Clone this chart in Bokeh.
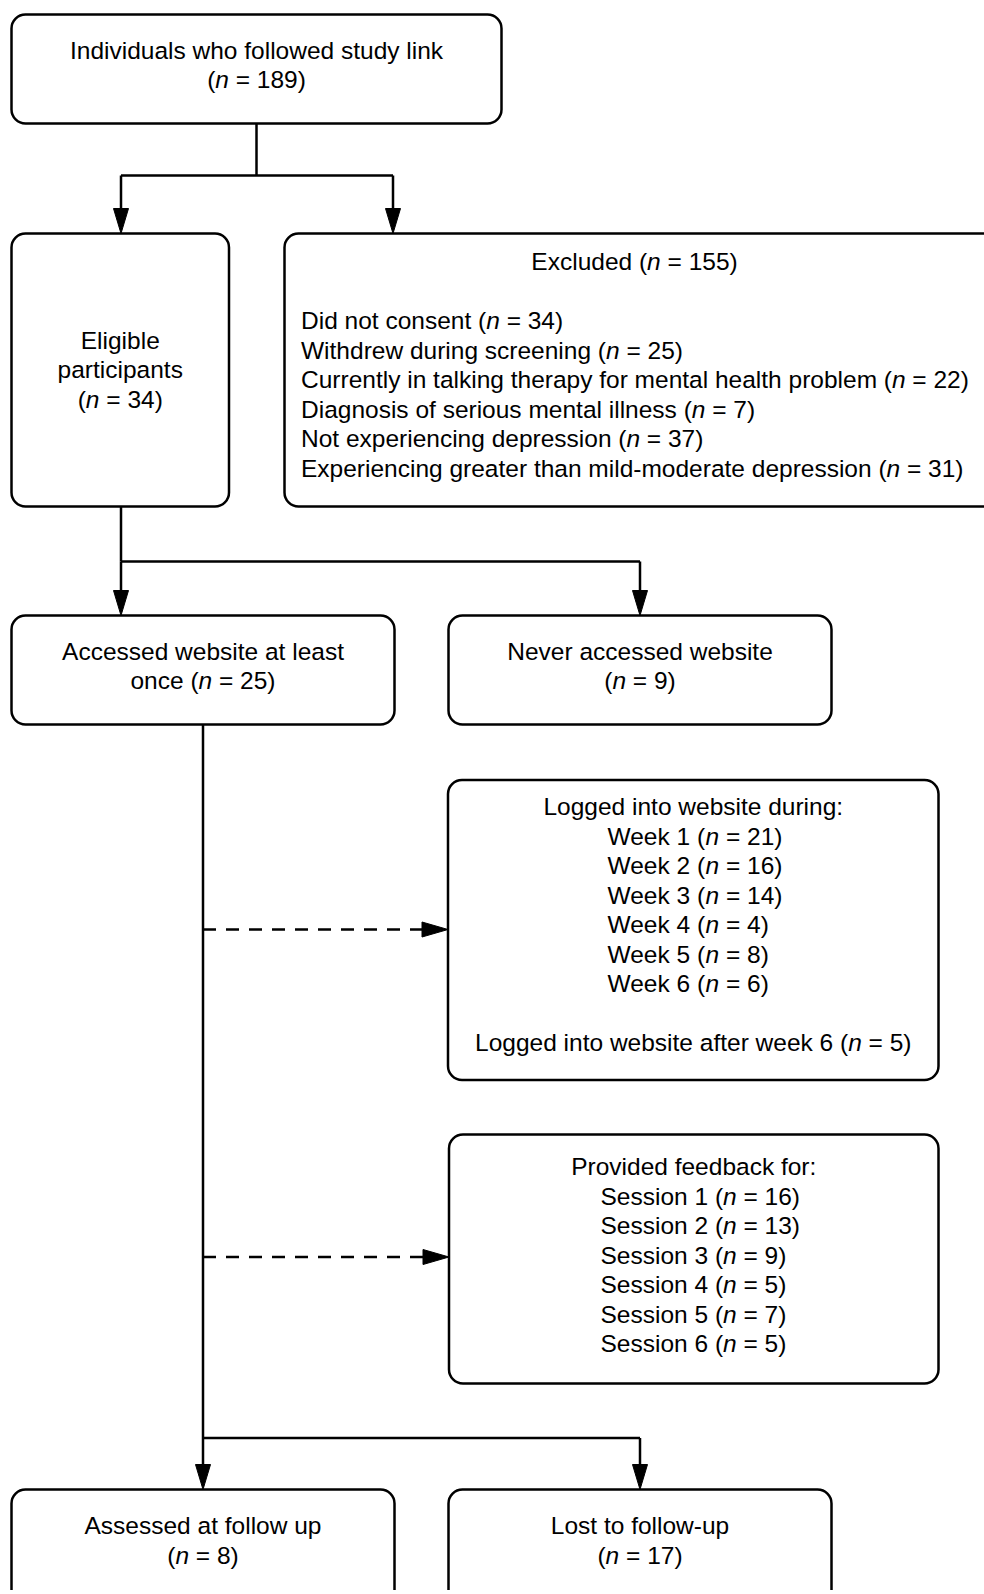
from bokeh.plotting import figure
from bokeh.models import Range1d, ColumnDataSource
from bokeh.embed import file_html
from bokeh.resources import INLINE
from bokeh.core.properties import value

# ---------------- data ----------------
followed_label = "Individuals who followed study link"
followed_n = 189
eligible_label = ["Eligible", "participants"]
eligible_n = 34
excluded_label = "Excluded"
excluded_n = 155
excluded_reasons = [
    "Did not consent",
    "Withdrew during screening",
    "Currently in talking therapy for mental health problem",
    "Diagnosis of serious mental illness",
    "Not experiencing depression",
    "Experiencing greater than mild-moderate depression",
]
excluded_counts = [34, 25, 22, 7, 37, 31]
accessed_label = ["Accessed website at least", "once"]
accessed_n = 25
never_label = "Never accessed website"
never_n = 9
logged_title = "Logged into website during:"
weeks = ["Week 1", "Week 2", "Week 3", "Week 4", "Week 5", "Week 6"]
week_counts = [21, 16, 14, 4, 8, 6]
after_week6_label = "Logged into website after week 6"
after_week6_n = 5
feedback_title = "Provided feedback for:"
sessions = ["Session 1", "Session 2", "Session 3", "Session 4", "Session 5", "Session 6"]
session_counts = [16, 13, 9, 5, 7, 5]
followup_label = "Assessed at follow up"
followup_n = 8
lost_label = "Lost to follow-up"
lost_n = 17

# ---------------- layout helpers ----------------
FONT = "Liberation Sans"
FS = 24.5
LH = 29.5
W = {' ': 278, '(': 333, ')': 333, '=': 584, '-': 333, ':': 278, '.': 278, ',': 278,
     'a': 556, 'b': 556, 'c': 500, 'd': 556, 'e': 556, 'f': 278, 'g': 556, 'h': 556, 'i': 222,
     'j': 222, 'k': 500, 'l': 222, 'm': 833, 'n': 556, 'o': 556, 'p': 556, 'q': 556, 'r': 333,
     's': 500, 't': 278, 'u': 556, 'v': 500, 'w': 722, 'x': 500, 'y': 500, 'z': 500,
     'A': 667, 'B': 667, 'C': 722, 'D': 722, 'E': 667, 'F': 611, 'G': 778, 'H': 722, 'I': 278,
     'J': 500, 'K': 667, 'L': 556, 'M': 833, 'N': 722, 'O': 778, 'P': 667, 'Q': 778, 'R': 722,
     'S': 667, 'T': 611, 'U': 722, 'V': 667, 'W': 944, 'X': 667, 'Y': 667, 'Z': 611}


def tw(s):
    return sum(W.get(c, 556) for c in s) * FS / 1000.0


def plain(s):
    return [(s, False, 0.0)]


def nline(prefix, n):
    # prefix "(" , italic n, space, "= n)"
    return [(prefix + "(", False, 0.0), ("n", True, 0.0), ("= %d)" % n, False, tw(" "))]


normal = dict(x=[], y=[], text=[])
italic = dict(x=[], y=[], text=[])


def put_line(segs, x, y, align="center"):
    total = sum(tw(t) + pre for t, _, pre in segs)
    cx = x - total / 2.0 if align == "center" else x
    for t, it, pre in segs:
        cx += pre
        d = italic if it else normal
        d["x"].append(cx)
        d["y"].append(y)
        d["text"].append(t)
        cx += tw(t)


def put_block(lines, x, y0, align="center"):
    for i, segs in enumerate(lines):
        if segs is not None:
            put_line(segs, x, y0 + i * LH, align)


# box geometry (page pixel coordinates: left, right, top, bottom)
boxes = {
    "followed": (11, 501, 14, 123),
    "eligible": (11, 228.5, 233, 506),
    "excluded": (284, 1010, 233, 506),
    "accessed": (11, 394, 615, 724),
    "never": (448, 831, 615, 724),
    "logged": (447.5, 938, 779.5, 1079.5),
    "feedback": (448.5, 938, 1134, 1383),
    "followup": (11, 394, 1489, 1640),
    "lost": (448, 831, 1489, 1640),
}


def cx(k):
    l, r, t, b = boxes[k]
    return (l + r) / 2.0


# ---------------- figure ----------------
PW, PH = 984, 1590
p = figure(width=PW, height=PH, x_range=Range1d(0, PW), y_range=Range1d(PH, 0),
           output_backend="svg", toolbar_location=None, min_border=0)
p.axis.visible = False
p.grid.visible = False
p.outline_line_color = None
p.background_fill_color = "white"
p.border_fill_color = "white"

# connectors
LW = 2.5
AL, AW = 25, 7.5
sx, sy = [], []
heads_x, heads_y = [], []


def seg(x0, y0, x1, y1):
    sx.append([x0, x1])
    sy.append([y0, y1])


def down_arrow(x, y0, ytip):
    seg(x, y0, x, ytip - AL + 2)
    heads_x.append([x - AW, x + AW, x])
    heads_y.append([ytip - AL, ytip - AL, ytip])


def right_head(xtip, y):
    heads_x.append([xtip - 26, xtip - 26, xtip])
    heads_y.append([y - AW, y + AW, y])


# top split
f = boxes["followed"]
e = boxes["eligible"]
x_ex_arrow = 392.5
y_split1 = 175
seg(cx("followed"), f[3], cx("followed"), y_split1)
seg(120.5, y_split1, x_ex_arrow, y_split1)
down_arrow(120.5, y_split1, e[2])
down_arrow(x_ex_arrow, y_split1, boxes["excluded"][2])

# eligible split
y_split2 = 561
seg(120.5, e[3], 120.5, y_split2)
seg(120.5, y_split2, cx("never"), y_split2)
down_arrow(120.5, y_split2, boxes["accessed"][2])
down_arrow(cx("never"), y_split2, boxes["never"][2])

# accessed stem and final split
a = boxes["accessed"]
x_stem = 202.5
y_split3 = 1437.5
seg(x_stem, a[3], x_stem, y_split3)
seg(x_stem, y_split3, cx("lost"), y_split3)
down_arrow(x_stem, y_split3, boxes["followup"][2])
down_arrow(cx("lost"), y_split3, boxes["lost"][2])

p.multi_line(xs=sx, ys=sy, line_color="black", line_width=LW)

# dashed arrows
y_d1, y_d2 = 929, 1256.5
p.multi_line(xs=[[x_stem, boxes["logged"][0] - 24], [x_stem, boxes["feedback"][0] - 24]],
             ys=[[y_d1, y_d1], [y_d2, y_d2]], line_color="black", line_width=LW,
             line_dash="13 10")
right_head(boxes["logged"][0], y_d1)
right_head(boxes["feedback"][0], y_d2)

p.patches(xs=heads_x, ys=heads_y, fill_color="black", line_color="black", line_width=1)

# boxes
keys = list(boxes.keys())
p.quad(left=[boxes[k][0] for k in keys], right=[boxes[k][1] for k in keys],
       top=[boxes[k][2] for k in keys], bottom=[boxes[k][3] for k in keys],
       fill_color="white", line_color="black", line_width=LW, border_radius=14)

# ---------------- texts (y = vertical middle of each line) ----------------
put_block([plain(followed_label), nline("", followed_n)], cx("followed"), 49.8)
put_block([plain(eligible_label[0]), plain(eligible_label[1]), nline("", eligible_n)],
          cx("eligible"), 339.5)
put_line(nline(excluded_label + " ", excluded_n), 634, 261.3)
put_block([nline(r + " ", c) for r, c in zip(excluded_reasons, excluded_counts)], 300.5, 320.2,
          align="left")
put_block([plain(accessed_label[0]), nline(accessed_label[1] + " ", accessed_n)],
          cx("accessed"), 650.6)
put_block([plain(never_label), nline("", never_n)], cx("never"), 650.6)

# logged-in box: centred title, left-aligned week list, centred footer line
put_line(plain(logged_title), cx("logged"), 806)
put_block([nline(w + " ", c) for w, c in zip(weeks, week_counts)], 607, 806 + LH, align="left")
put_line(nline(after_week6_label + " ", after_week6_n), cx("logged"), 806 + 8 * LH)

# feedback box: centred title, left-aligned session list
put_line(plain(feedback_title), cx("feedback"), 1166)
put_block([nline(s + " ", c) for s, c in zip(sessions, session_counts)], 600, 1166 + LH,
          align="left")

put_block([plain(followup_label), nline("", followup_n)], cx("followup"), 1525)
put_block([plain(lost_label), nline("", lost_n)], cx("lost"), 1525)

p.text(x="x", y="y", text="text", source=ColumnDataSource(normal),
       text_font=value(FONT), text_font_size="%.1fpx" % FS, text_color="black",
       text_align="left", text_baseline="middle")
p.text(x="x", y="y", text="text", source=ColumnDataSource(italic),
       text_font=value(FONT), text_font_size="%.1fpx" % FS, text_font_style="italic",
       text_color="black", text_align="left", text_baseline="middle")

open("out.html", "w").write(file_html(p, INLINE))
